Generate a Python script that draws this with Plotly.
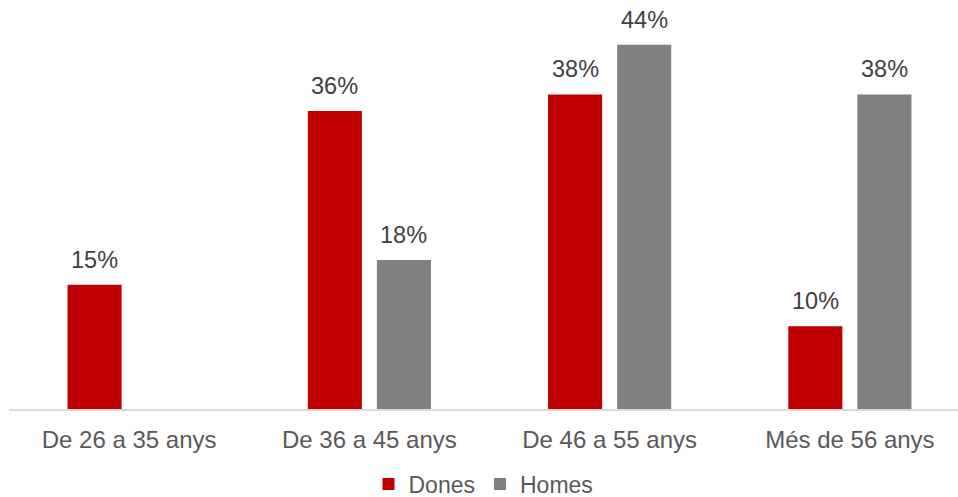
import plotly.graph_objects as go

# Age groups and percentage shares by sex
categories = ["De 26 a 35 anys", "De 36 a 45 anys", "De 46 a 55 anys", "Més de 56 anys"]
dones = [15, 36, 38, 10]
homes = [None, 18, 44, 38]

series = [
    ("Dones", dones, "#C00000"),
    ("Homes", homes, "#808080"),
]

FONT = "Liberation Sans, Arial, sans-serif"
LABEL_SIZE = 23.5
TICK_SIZE = 24

fig = go.Figure()
for name, vals, color in series:
    fig.add_trace(go.Bar(
        name=name,
        x=categories,
        y=vals,
        marker=dict(color=color, line=dict(width=0)),
        hoverinfo="skip",
    ))

# Value labels above each bar, offset to the bar's slot within its group
slot_px = 69
for i, (name, vals, color) in enumerate(series):
    shift = (i - 0.5) * slot_px
    for cat, v in zip(categories, vals):
        if v is None:
            continue
        fig.add_annotation(
            x=cat, y=v, xref="x", yref="y",
            text=f"{v}%", showarrow=False,
            xshift=shift, yshift=10, yanchor="bottom",
            font=dict(family=FONT, size=LABEL_SIZE, color="#404040"),
        )

fig.update_layout(
    width=958, height=497,
    margin=dict(l=9, r=0, t=10, b=88, autoexpand=False),
    paper_bgcolor="white", plot_bgcolor="white",
    barmode="group",
    bargap=0.425,
    bargroupgap=0.217,
    font=dict(family=FONT, color="#595959"),
    showlegend=True,
    legend=dict(
        orientation="h", x=0.5, xanchor="center",
        y=-0.188, yanchor="middle",
        font=dict(family=FONT, size=23, color="#595959"),
        itemwidth=30,
    ),
    xaxis=dict(
        range=[-0.5, 3.45],
        showline=True, linecolor="#D9D9D9", linewidth=1.5,
        showgrid=False, ticks="",
        ticklabelstandoff=8,
        automargin=False,
        tickfont=dict(family=FONT, size=TICK_SIZE, color="#595959"),
        fixedrange=True,
    ),
    yaxis=dict(
        range=[0, 48.2],
        visible=False, showgrid=False, zeroline=False,
        fixedrange=True,
    ),
)

fig.write_html("out.html")
